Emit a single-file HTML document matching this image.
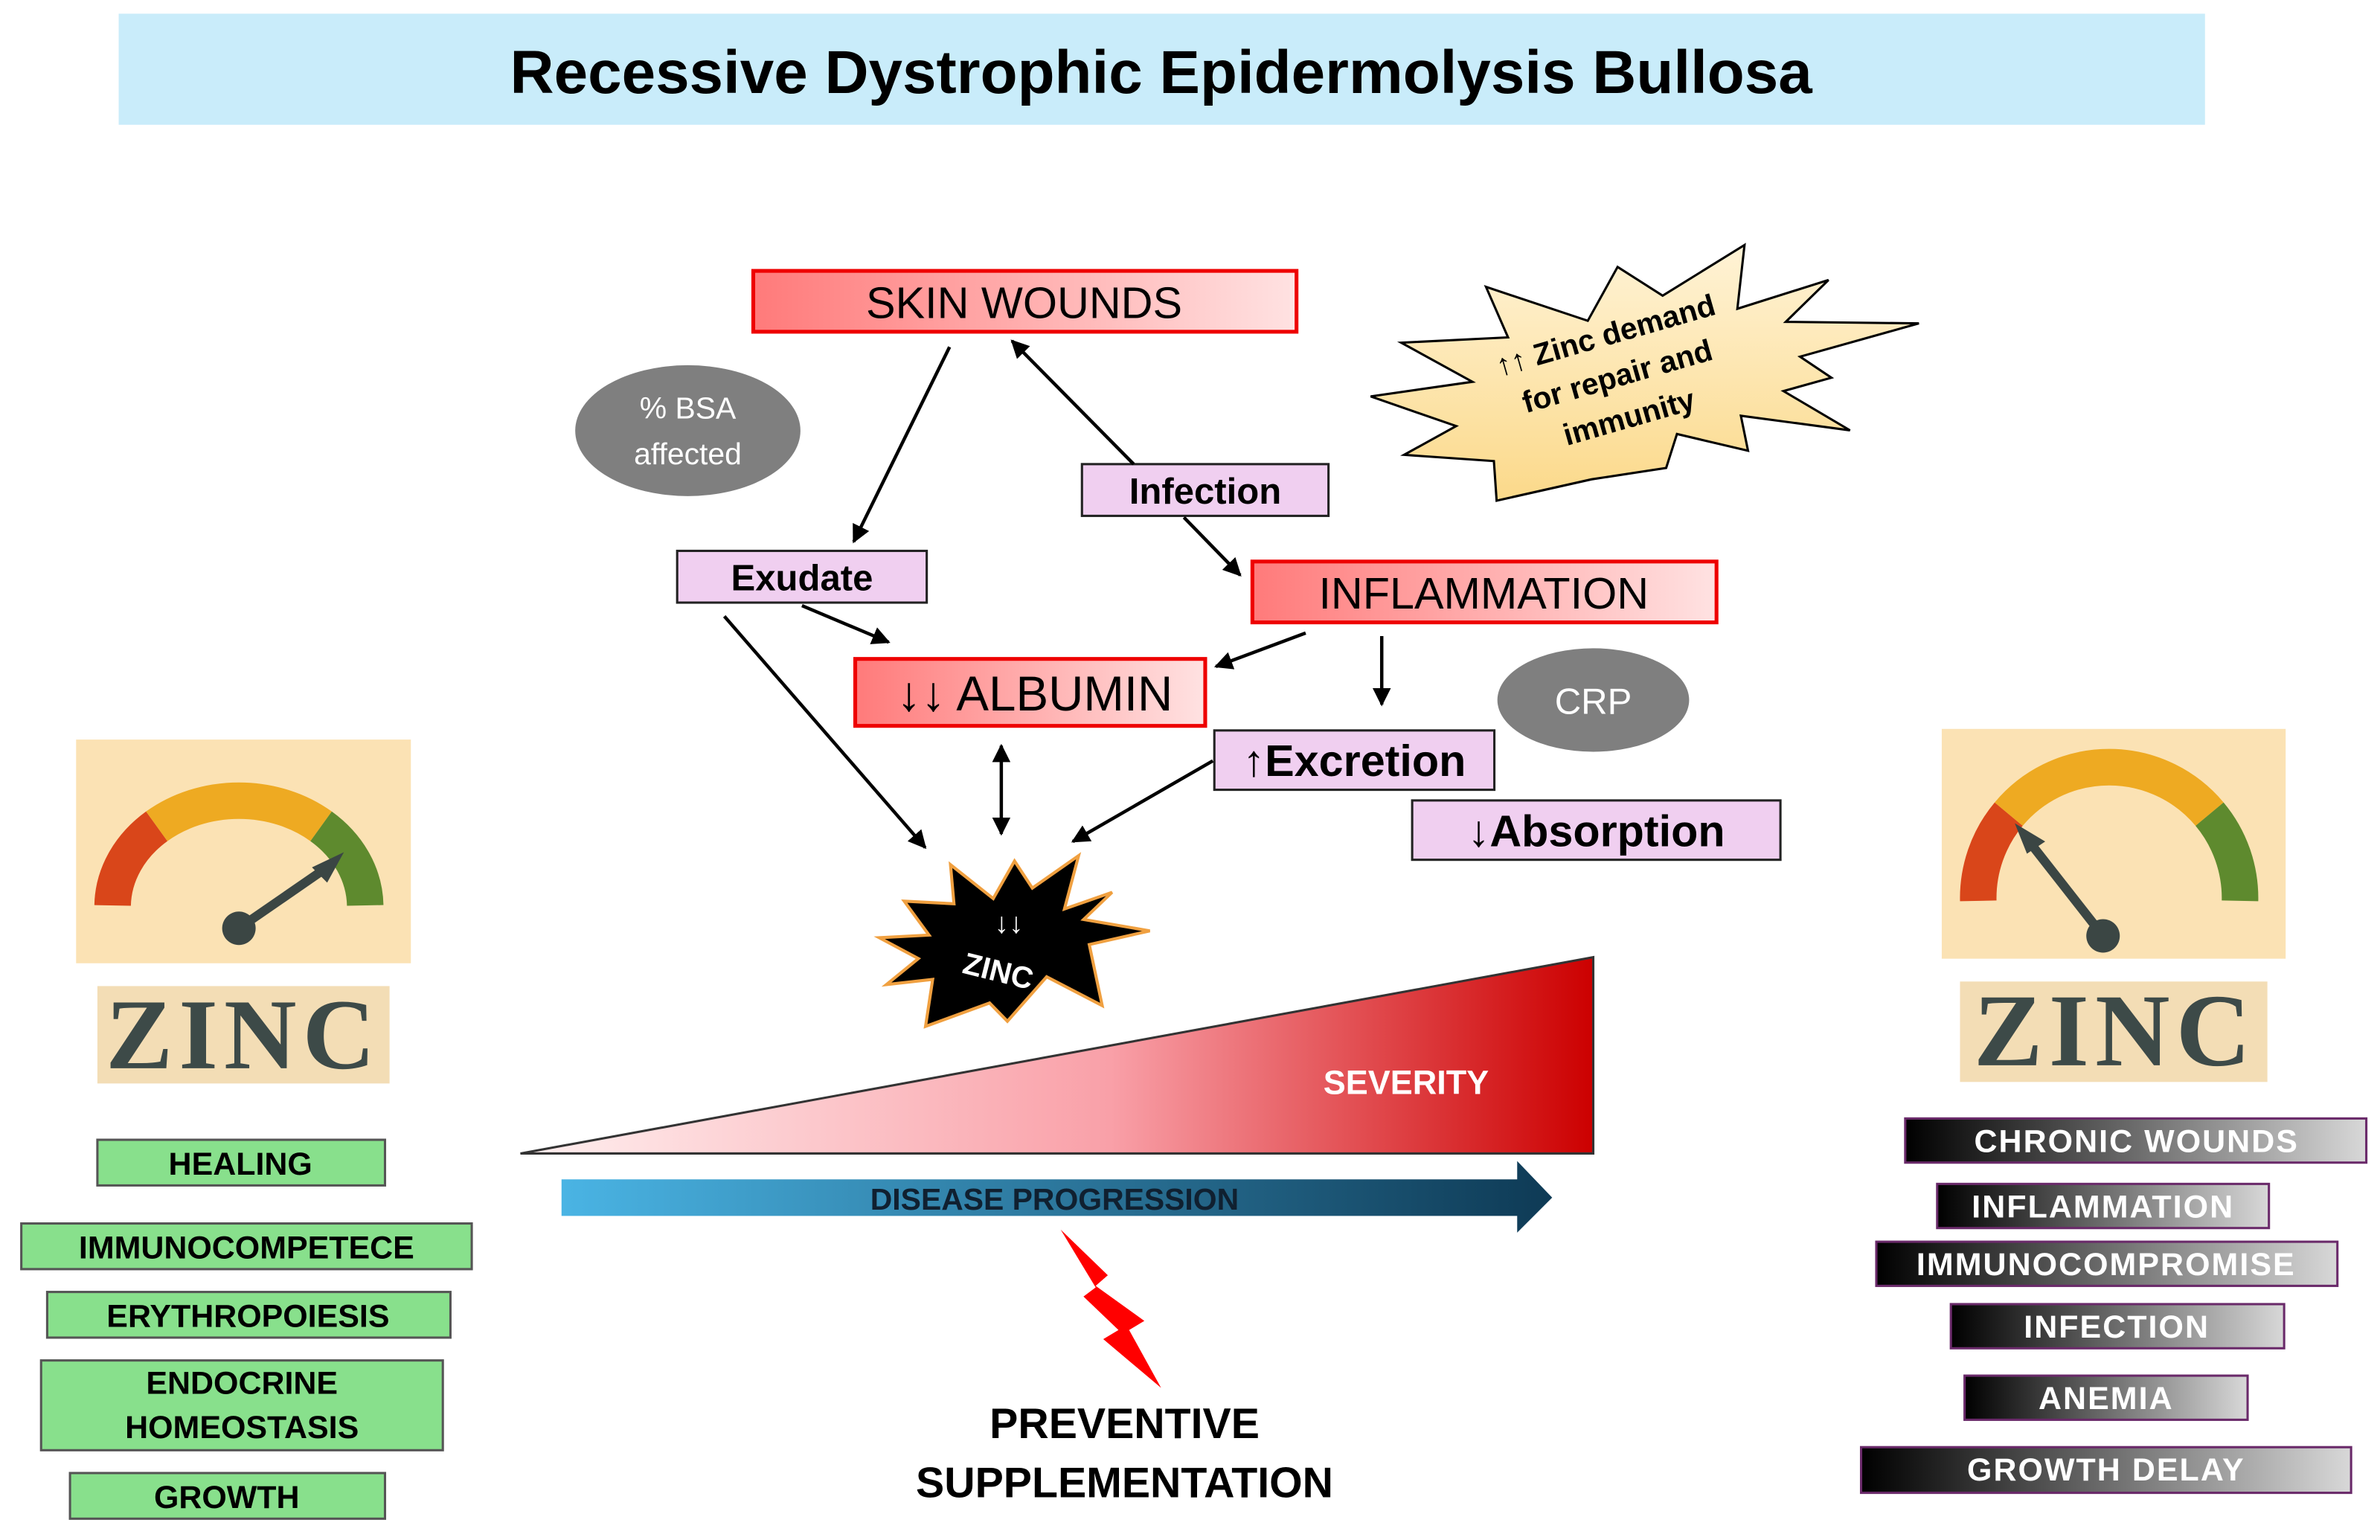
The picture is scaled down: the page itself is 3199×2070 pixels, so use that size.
<!DOCTYPE html>
<html><head><meta charset="utf-8"><style>
html,body{margin:0;padding:0;background:#fff;width:3199px;height:2070px;overflow:hidden}
svg{display:block}
text{font-family:"Liberation Sans",sans-serif}
text.serif{font-family:"Liberation Serif",serif}
</style></head><body>
<svg width="3199" height="2070" viewBox="0 0 1564 1012" preserveAspectRatio="none" xmlns="http://www.w3.org/2000/svg">
<defs>
<linearGradient id="rg" x1="0" x2="1" y1="0" y2="0"><stop offset="0" stop-color="#ff7a7a"/><stop offset="1" stop-color="#ffe2e2"/></linearGradient>
<linearGradient id="yg" x1="0" x2="0" y1="0" y2="1"><stop offset="0" stop-color="#fff3d6"/><stop offset="1" stop-color="#fbd98a"/></linearGradient>
<linearGradient id="sev" x1="0" x2="1" y1="0" y2="0"><stop offset="0" stop-color="#fff0f0"/><stop offset="0.55" stop-color="#f9a0a8"/><stop offset="1" stop-color="#cc0000"/></linearGradient>
<linearGradient id="dp" x1="0" x2="1" y1="0" y2="0"><stop offset="0" stop-color="#4ab4e4"/><stop offset="1" stop-color="#0e3a55"/></linearGradient>
<linearGradient id="bw" x1="0" x2="1" y1="0" y2="0"><stop offset="0" stop-color="#000"/><stop offset="1" stop-color="#d8d8d8"/></linearGradient>
<marker id="ah2" viewBox="0 0 10 10" refX="9" refY="5" markerWidth="12" markerHeight="12" orient="auto-start-reverse" markerUnits="userSpaceOnUse"><path d="M0,0 L10,5 L0,10 z" fill="#000"/></marker>
</defs>

<rect x="78" y="9" width="1371" height="73" fill="#c9ecfa"/>
<text x="763" y="61" text-anchor="middle" font-size="40" font-weight="bold" fill="#000">Recessive Dystrophic Epidermolysis Bullosa</text>

<polygon fill="url(#yg)" stroke="#000" stroke-width="1.5" points="976.5,188.5 991,221.7 920.8,225.2 967.6,250.9 900.7,260.5 956.9,280 922.7,298.9 981.7,303 983.5,329 1045.8,315 1094.9,307.5 1102,285.2 1148.7,296.2 1144,273.2 1215.7,282.8 1172,257 1203.5,248.2 1182.9,234.4 1261,212.5 1173.5,211.5 1201.6,184 1141.7,202.9 1146.4,161 1092.6,194.3 1063,175.4 1043.4,210.8"/>
<g transform="rotate(-16 1063 248)" font-weight="bold" font-size="20" text-anchor="middle" fill="#000">
<text x="1063" y="226">↑↑ Zinc demand</text>
<text x="1063" y="254">for repair and</text>
<text x="1063" y="282">immunity</text>
</g>

<ellipse cx="452" cy="283" rx="74" ry="43" fill="#7f7f7f"/>
<text x="452" y="275" text-anchor="middle" font-size="20" fill="#fff">% BSA</text>
<text x="452" y="305" text-anchor="middle" font-size="20" fill="#fff">affected</text>

<ellipse cx="1047" cy="460" rx="63" ry="34" fill="#7f7f7f"/>
<text x="1047" y="469" text-anchor="middle" font-size="24" fill="#fff">CRP</text>

<rect x="495" y="178" width="357" height="40" fill="url(#rg)" stroke="#ee0000" stroke-width="2.5"/>
<text x="673" y="209" text-anchor="middle" font-size="29" fill="#000">SKIN WOUNDS</text>
<rect x="823" y="369" width="305" height="40" fill="url(#rg)" stroke="#ee0000" stroke-width="2.5"/>
<text x="975" y="400" text-anchor="middle" font-size="29" fill="#000">INFLAMMATION</text>
<rect x="562" y="433" width="230" height="44" fill="url(#rg)" stroke="#ee0000" stroke-width="2.5"/>
<text x="680" y="467" text-anchor="middle" font-size="32" fill="#000">↓↓ ALBUMIN</text>

<g fill="#f0cff0" stroke="#222" stroke-width="1.5">
<rect x="711" y="305" width="162" height="34"/>
<rect x="445" y="362" width="164" height="34"/>
<rect x="798" y="480" width="184" height="39"/>
<rect x="928" y="526" width="242" height="39"/>
</g>
<g font-weight="bold" fill="#000" text-anchor="middle">
<text x="792" y="331" font-size="24">Infection</text>
<text x="527" y="388" font-size="24">Exudate</text>
<text x="890" y="510" font-size="29">↑Excretion</text>
<text x="1049" y="556" font-size="29">↓Absorption</text>
</g>

<g stroke="#000" stroke-width="2.2" fill="none">
<line x1="624" y1="228" x2="561" y2="356" marker-end="url(#ah2)"/>
<line x1="745" y1="305" x2="665" y2="224" marker-end="url(#ah2)"/>
<line x1="778" y1="340" x2="815" y2="378" marker-end="url(#ah2)"/>
<line x1="527" y1="398" x2="584" y2="422" marker-end="url(#ah2)"/>
<line x1="476" y1="405" x2="608" y2="557" marker-end="url(#ah2)"/>
<line x1="858" y1="416" x2="799" y2="438" marker-end="url(#ah2)"/>
<line x1="908" y1="418" x2="908" y2="463" marker-end="url(#ah2)"/>
<line x1="658" y1="490" x2="658" y2="548" marker-start="url(#ah2)" marker-end="url(#ah2)"/>
<line x1="797" y1="500" x2="705" y2="553" marker-end="url(#ah2)"/>
</g>

<polygon fill="#000" stroke="#f0a040" stroke-width="2" points="624.6,568.2 652.7,590.5 666.7,565.8 678.4,583.6 708.8,562.3 699.5,597.3 730.8,586.4 712.1,604.2 755.6,611.7 715.8,620.7 724.3,660.8 687.8,641.9 662,671.1 650.3,659.1 608.2,674.5 612.9,643.6 582.5,647 603.5,629.9 577.8,616.2 610.5,614.5 594.2,592.2 626.9,593.9"/>
<text x="663" y="613" text-anchor="middle" font-size="19" font-weight="bold" fill="#fff">↓↓</text>
<text x="656" y="645" text-anchor="middle" font-size="20" font-weight="bold" fill="#fff" transform="rotate(14 656 638)">ZINC</text>

<polygon points="342,758 1047,629 1047,758" fill="url(#sev)" stroke="#333" stroke-width="1.5"/>
<text x="924" y="719" text-anchor="middle" font-size="22" font-weight="bold" fill="#fff">SEVERITY</text>

<polygon points="369,775 997,775 997,763 1020,787 997,810 997,799 369,799" fill="url(#dp)"/>
<text x="693" y="795" text-anchor="middle" font-size="20" font-weight="bold" fill="#102030">DISEASE PROGRESSION</text>

<polygon points="697,808 728,838 720,845 752,868 742,874 763,912 725,880 735,874 712,852 720,846" fill="#ff0000"/>
<text x="739" y="945" text-anchor="middle" font-size="28" font-weight="bold" fill="#000">PREVENTIVE</text>
<text x="739" y="984" text-anchor="middle" font-size="28" font-weight="bold" fill="#000">SUPPLEMENTATION</text>

<rect x="50" y="486" width="220" height="147" fill="#fbe2b4"/>
<g fill="none" stroke-width="24">
<path d="M74,595 A83,70 0 0 1 103,543" stroke="#d9461a"/>
<path d="M103,543 A83,70 0 0 1 211,543" stroke="#eeaa22"/>
<path d="M211,543 A83,70 0 0 1 240,595" stroke="#5e8a2e"/>
</g>
<line x1="157" y1="610" x2="212" y2="572" stroke="#3b4644" stroke-width="6"/>
<polygon points="226,560 205,570 215,580" fill="#3b4644"/>
<circle cx="157" cy="610" r="11" fill="#3b4644"/>
<rect x="64" y="648" width="192" height="64" fill="#f3ddb5"/>
<text class="serif" x="160" y="702" text-anchor="middle" font-size="66" font-weight="bold" fill="#3d4a48" letter-spacing="4">ZINC</text>

<rect x="1276" y="479" width="226" height="151" fill="#fbe2b4"/>
<g fill="none" stroke-width="24">
<path d="M1300,592 A86,86 0 0 1 1320,535" stroke="#d9461a"/>
<path d="M1320,535 A86,86 0 0 1 1452,535" stroke="#eeaa22"/>
<path d="M1452,535 A86,86 0 0 1 1472,592" stroke="#5e8a2e"/>
</g>
<line x1="1382" y1="615" x2="1335" y2="555" stroke="#3b4644" stroke-width="6"/>
<polygon points="1324,541 1344,553 1332,561" fill="#3b4644"/>
<circle cx="1382" cy="615" r="11" fill="#3b4644"/>
<rect x="1288" y="645" width="202" height="66" fill="#f3ddb5"/>
<text class="serif" x="1390" y="700" text-anchor="middle" font-size="68" font-weight="bold" fill="#3d4a48" letter-spacing="4">ZINC</text>

<g fill="#88e08c" stroke="#555" stroke-width="1.5">
<rect x="64" y="749" width="189" height="30"/>
<rect x="14" y="804" width="296" height="30"/>
<rect x="31" y="849" width="265" height="30"/>
<rect x="27" y="894" width="264" height="59"/>
<rect x="46" y="968" width="207" height="30"/>
</g>
<g font-size="21" font-weight="bold" fill="#000" text-anchor="middle">
<text x="158" y="772">HEALING</text>
<text x="162" y="827">IMMUNOCOMPETECE</text>
<text x="163" y="872">ERYTHROPOIESIS</text>
<text x="159" y="916">ENDOCRINE</text>
<text x="159" y="945">HOMEOSTASIS</text>
<text x="149" y="991">GROWTH</text>
</g>

<g fill="url(#bw)" stroke="#6a2a6a" stroke-width="1.5">
<rect x="1252" y="735" width="303" height="29"/>
<rect x="1273" y="778" width="218" height="29"/>
<rect x="1233" y="816" width="303" height="29"/>
<rect x="1282" y="857" width="219" height="29"/>
<rect x="1291" y="904" width="186" height="29"/>
<rect x="1223" y="951" width="322" height="30"/>
</g>
<g font-size="21" font-weight="bold" fill="#fff" text-anchor="middle" letter-spacing="1">
<text x="1404" y="757">CHRONIC WOUNDS</text>
<text x="1382" y="800">INFLAMMATION</text>
<text x="1384" y="838">IMMUNOCOMPROMISE</text>
<text x="1391" y="879">INFECTION</text>
<text x="1384" y="926">ANEMIA</text>
<text x="1384" y="973">GROWTH DELAY</text>
</g>
</svg>
</body></html>
